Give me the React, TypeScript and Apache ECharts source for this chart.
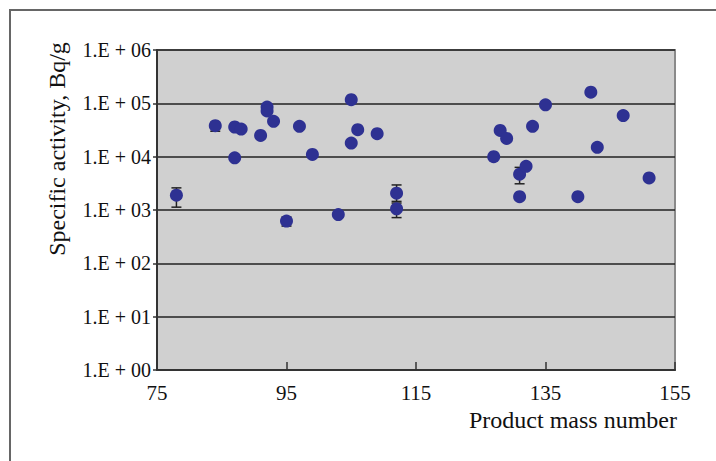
import React, { useEffect, useRef } from "react";
import * as echarts from "echarts";

const massNumbers = [78, 84, 87, 88, 87, 91, 92, 92, 93, 95, 97, 99, 103, 105, 105, 106, 109, 112, 112, 127, 128, 129, 131, 132, 131, 133, 135, 140, 142, 143, 147, 151];
const activities = [1900, 38000, 36000, 33000, 9500, 25000, 85000, 72000, 46000, 620, 37000, 11000, 820, 117000, 18000, 32000, 27000, 2070, 1050, 10000, 31000, 22000, 4700, 6600, 1780, 37000, 94000, 1780, 162000, 15000, 59000, 4000];

const errMass = [78, 84, 95, 112, 112, 131];
const errLow = [1130, 30000, 500, 1450, 720, 3100];
const errHigh = [2600, 44000, 740, 2950, 1350, 6300];

const xTicks = [75, 95, 115, 135, 155];
const yExponents = ["00", "01", "02", "03", "04", "05", "06"];

const FONT = "'Liberation Serif', 'Times New Roman', serif";

export default function App() {
  const ref = useRef<HTMLDivElement>(null);
  useEffect(() => {
    if (!ref.current) return;
    const chart = echarts.init(ref.current, undefined, { renderer: "svg" });
    const errData = errMass.map((m, i) => [m, errLow[i], errHigh[i]]);
    chart.setOption({
      animation: false,
      backgroundColor: "#ffffff",
      grid: {
        left: 157,
        top: 50,
        right: 41,
        bottom: 91,
        show: true,
        backgroundColor: "#d0d0d0",
        borderColor: "#8a8a8a",
        borderWidth: 2,
      },
      xAxis: {
        type: "value",
        min: xTicks[0],
        max: xTicks[xTicks.length - 1],
        interval: 20,
        axisLine: { show: true, onZero: false, lineStyle: { color: "#333", width: 2 } },
        axisTick: { show: true, inside: true, length: 8, lineStyle: { color: "#333", width: 1.5 } },
        splitLine: { show: false },
        axisLabel: { color: "#111", fontFamily: FONT, fontSize: 21, margin: 12 },
      },
      yAxis: {
        type: "log",
        logBase: 10,
        min: 1,
        max: 1e6,
        axisLine: { show: true, lineStyle: { color: "#333", width: 2 } },
        axisTick: { show: true, length: 4, lineStyle: { color: "#333", width: 1.5 } },
        splitLine: { show: true, lineStyle: { color: "#222", width: 1.5 } },
        minorTick: { show: false },
        axisLabel: {
          color: "#111",
          fontFamily: FONT,
          fontSize: 20,
          margin: 6,
          formatter: (v: number) => {
            const e = Math.round(Math.log10(v));
            return "1.E + " + yExponents[e];
          },
        },
      },
      graphic: [
        {
          type: "rect",
          shape: { x: 10, y: 10, width: 730, height: 480 },
          style: { fill: "none", stroke: "#666", lineWidth: 2 },
          silent: true,
        },
        {
          type: "text",
          x: 677,
          y: 420,
          style: {
            text: "Product mass number",
            fontFamily: FONT,
            fontSize: 24,
            fill: "#111",
            align: "right",
            verticalAlign: "middle",
          },
        },
        {
          type: "text",
          x: 57,
          y: 149,
          rotation: Math.PI / 2,
          style: {
            text: "Specific activity, Bq/g",
            fontFamily: FONT,
            fontSize: 24,
            fill: "#111",
            align: "center",
            verticalAlign: "middle",
          },
        },
      ],
      series: [
        {
          type: "custom",
          z: 1,
          data: errData,
          renderItem: (params: any, api: any) => {
            const x = api.value(0);
            const lo = api.coord([x, api.value(1)]);
            const hi = api.coord([x, api.value(2)]);
            const w = 5;
            const st = { stroke: "#222", lineWidth: 1.5 };
            return {
              type: "group",
              children: [
                { type: "line", shape: { x1: lo[0], y1: lo[1], x2: hi[0], y2: hi[1] }, style: st },
                { type: "line", shape: { x1: lo[0] - w, y1: lo[1], x2: lo[0] + w, y2: lo[1] }, style: st },
                { type: "line", shape: { x1: hi[0] - w, y1: hi[1], x2: hi[0] + w, y2: hi[1] }, style: st },
              ],
            };
          },
        },
        {
          type: "scatter",
          z: 2,
          symbol: "circle",
          symbolSize: 13,
          itemStyle: { color: "#2e3192", opacity: 1 },
          data: massNumbers.map((m, i) => [m, activities[i]]),
        },
      ],
    });
    return () => chart.dispose();
  }, []);
  return (
    <div
      ref={ref}
      style={{ position: "fixed", left: 0, top: 0, width: 716, height: 461 }}
    />
  );
}
